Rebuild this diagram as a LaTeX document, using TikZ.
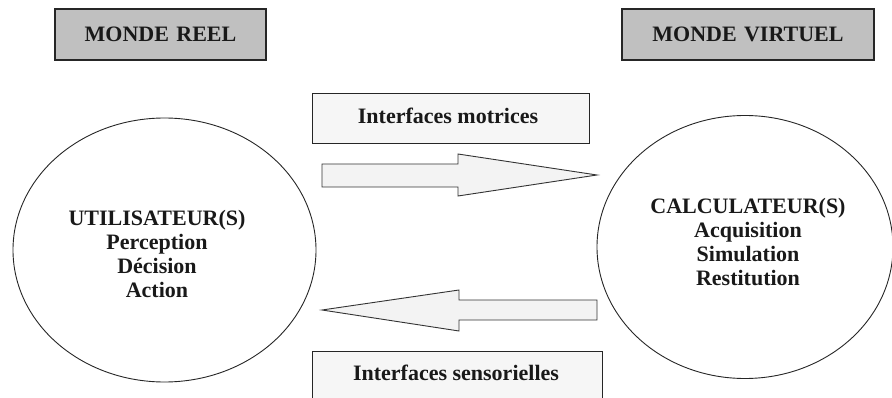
\documentclass[tikz,border=0pt]{standalone}
\usepackage{fontspec}
\setmainfont{Liberation Serif}
\usetikzlibrary{shapes.geometric}
\definecolor{hdrgray}{RGB}{192,192,192}
\definecolor{boxfill}{RGB}{246,246,246}
\definecolor{arrfill}{RGB}{243,243,243}
\tikzset{
  hdr/.style={draw=black!85, line width=1.1pt, fill=hdrgray, inner sep=0pt},
  ifbox/.style={draw=black!85, line width=0.9pt, fill=boxfill, inner sep=0pt},
  txt/.style={font=\bfseries\fontsize{22}{24}\selectfont, align=center, inner sep=0pt, text=black!90},
  world/.style={ellipse, draw=black!85, line width=0.9pt, inner sep=0pt},
  blockarrow/.style={draw=black!80, line width=0.9pt, fill=arrfill, line join=miter}
}
\begin{document}
\begin{tikzpicture}[x=1pt,y=-1pt]
\useasboundingbox (0,0) rectangle (892,398);
% header boxes
\node[hdr, minimum width=211pt, minimum height=51pt] (reel) at (160.5,34.5) {};
\node[txt, text width=211pt] at (reel.center) {MONDE REEL};
\node[hdr, minimum width=252pt, minimum height=51pt] (virt) at (748,34.5) {};
\node[txt, text width=252pt] at (virt.center) {MONDE VIRTUEL};
% interface boxes
\node[ifbox, minimum width=277pt, minimum height=50pt] (motr) at (450.5,118) {};
\node[txt] at (448,116) {Interfaces motrices};
\node[ifbox, minimum width=290pt, minimum height=60pt] (sens) at (457,381) {};
\node[txt] at (456,373) {Interfaces sensorielles};
% ellipses
\node[world, minimum width=303pt, minimum height=264pt] (user) at (164.5,250) {};
\node[txt] at (157,254) {UTILISATEUR(S)\\Perception\\Décision\\Action};
\node[world, minimum width=296pt, minimum height=263pt] (calc) at (745,247) {};
\node[txt] at (748,242) {CALCULATEUR(S)\\Acquisition\\Simulation\\Restitution};
% block arrows
\draw[blockarrow] (322,164) -- (458,164) -- (458,154) -- (597,175) -- (458,196) -- (458,187) -- (322,187) -- cycle;
\draw[blockarrow] (597,300) -- (459,300) -- (459,290) -- (322,310) -- (459,331) -- (459,320) -- (597,320) -- cycle;
\end{tikzpicture}
\end{document}
